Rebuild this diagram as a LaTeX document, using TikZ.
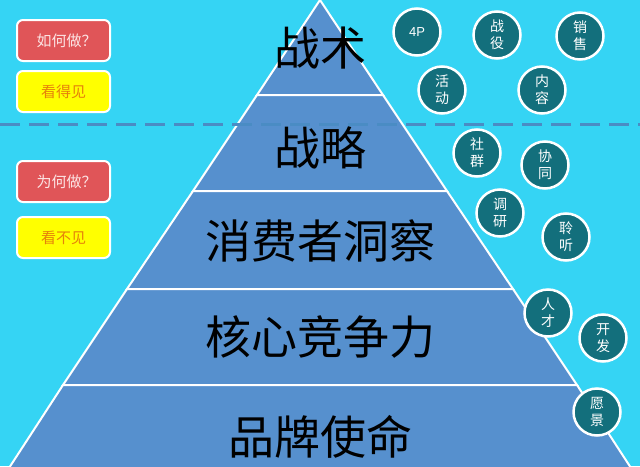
\documentclass[tikz,border=0pt]{standalone}
\usepackage{fontspec}
\newfontfamily\cjk{Noto Sans CJK SC}
\newfontfamily\sans{Liberation Sans}
\definecolor{bg}{HTML}{35D4F4}
\definecolor{pyr}{HTML}{5690CE}
\definecolor{dashcol}{HTML}{4A8CC4}
\definecolor{tealc}{HTML}{136F7C}
\definecolor{redbox}{HTML}{E05558}
\definecolor{redtxt}{HTML}{FCE4E4}
\definecolor{yelbox}{HTML}{FFFF00}
\definecolor{yeltxt}{HTML}{E6820A}
\tikzset{
  layer/.style={fill=pyr,draw=white,line width=2pt,line join=miter},
  laytext/.style={font=\cjk\fontsize{46}{48}\selectfont,text=black,inner sep=0pt},
  tag/.style={draw=white,line width=2pt,rounded corners=6pt,minimum width=93pt,minimum height=41pt,inner sep=0pt,font=\cjk\fontsize{15}{17}\selectfont},
  redtag/.style={tag,fill=redbox,text=redtxt},
  yeltag/.style={tag,fill=yelbox,text=yeltxt},
  bubble/.style={circle,draw=white,line width=2.5pt,fill=tealc,minimum size=47pt,inner sep=0pt,text=white,font=\cjk\fontsize{14}{17}\selectfont,align=center},
}
\begin{document}
\begin{tikzpicture}[x=1pt,y=-1pt]
\fill[bg] (0,0) rectangle (640,466);
\useasboundingbox (0,0) rectangle (640,466);
% pyramid layers
\coordinate (A) at (320,0);
\draw[layer] (A) -- (383,95) -- (257,95) -- cycle;
\draw[layer] (257,95) -- (383,95) -- (447,191) -- (193,191) -- cycle;
\draw[layer] (193,191) -- (447,191) -- (513,289) -- (127,289) -- cycle;
\draw[layer] (127,289) -- (513,289) -- (577,385) -- (63,385) -- cycle;
\draw[layer] (63,385) -- (577,385) -- (631,468) -- (9,468) -- cycle;
% dashed separator
\coordinate (dl) at (0,124);
\coordinate (dr) at (640,124);
\draw[dashcol,line width=3pt,dash pattern=on 20pt off 9pt] (dl) -- (dr);
% layer texts
\node[laytext] (t1) at (320,48) {战术};
\node[laytext] (t2) at (320,148) {战略};
\node[laytext] (t3) at (320,241) {消费者洞察};
\node[laytext] (t4) at (320,337) {核心竞争力};
\node[laytext] (t5) at (320,437) {品牌使命};
% left tags
\node[redtag] (how) at (63.5,40.5) {\hspace{6pt}如何做？};
\node[yeltag] (see) at (63.5,91.5) {看得见};
\node[redtag] (why) at (63.5,181.5) {\hspace{6pt}为何做？};
\node[yeltag] (nosee) at (63.5,237.5) {看不见};
% bubbles
\node[bubble,font=\sans\fontsize{13}{15}\selectfont] (b4p) at (417,32) {4P};
\node[bubble] (bzy) at (497,35) {战\\役};
\node[bubble] (bxs) at (580,36) {销\\售};
\node[bubble] (bhd) at (442,90) {活\\动};
\node[bubble] (bnr) at (542,90) {内\\容};
\node[bubble] (bsq) at (477,153) {社\\群};
\node[bubble] (bxt) at (545,165) {协\\同};
\node[bubble] (bdy) at (500,213) {调\\研};
\node[bubble] (bll) at (566,237) {聆\\听};
\node[bubble] (brc) at (548,313) {人\\才};
\node[bubble] (bkf) at (603,338) {开\\发};
\node[bubble] (byj) at (597,412) {愿\\景};
\end{tikzpicture}
\end{document}
